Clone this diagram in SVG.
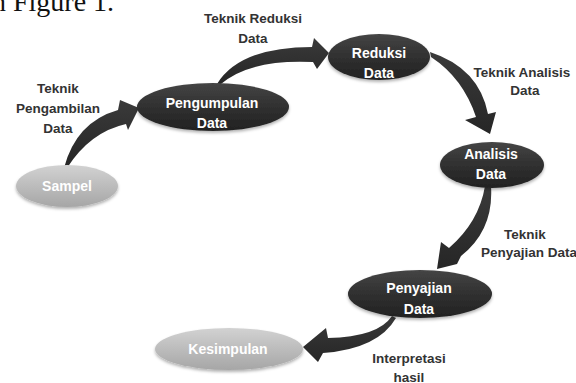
<svg xmlns="http://www.w3.org/2000/svg" width="576" height="383" viewBox="0 0 576 383">
  <defs>
    <linearGradient id="dark" x1="0" y1="0" x2="0" y2="1">
      <stop offset="0" stop-color="#454545"/>
      <stop offset="0.5" stop-color="#303030"/>
      <stop offset="1" stop-color="#222222"/>
    </linearGradient>
    <linearGradient id="light" x1="0" y1="0" x2="0" y2="1">
      <stop offset="0" stop-color="#d2d2d2"/>
      <stop offset="1" stop-color="#a6a6a6"/>
    </linearGradient>
    <linearGradient id="arrowFill" x1="0" y1="0" x2="0" y2="1">
      <stop offset="0" stop-color="#3a3a3a"/>
      <stop offset="1" stop-color="#262626"/>
    </linearGradient>
    <filter id="shadow" x="-20%" y="-20%" width="140%" height="160%">
      <feDropShadow dx="0" dy="2" stdDeviation="1.6" flood-color="#000" flood-opacity="0.3"/>
    </filter>
  </defs>
  <style>
    .node-dark { fill: url(#dark); filter: url(#shadow); }
    .node-light { fill: url(#light); filter: url(#shadow); }
    .ntext { font-family: "Liberation Sans", Arial, sans-serif; font-weight: bold; font-size: 14px; fill: #ffffff; text-anchor: middle; }
    .label { font-family: "Liberation Sans", Arial, sans-serif; font-weight: bold; font-size: 13.5px; fill: #333333; text-anchor: middle; }
    .arrow { fill: url(#arrowFill); }
    .fig { font-family: "Liberation Serif", "Times New Roman", serif; font-size: 28px; fill: #111111; }
  </style>
  <rect width="576" height="383" fill="#ffffff"/>

  <text class="fig" x="-8" y="11">n Figure 1.</text>

  <g id="connectors">
    <path class="arrow" d="M64,168 Q76,122 118,110 L120,100 L139,108 L128,130 L126,124 Q90,132 67,168 Z"/>
    <path class="arrow" d="M217,84 Q240,47 312,47 L314,38 L329,53 L317,69 L313,62 Q250,59 221,84 Z"/>
    <path class="arrow" d="M430,52 Q479,68 488,114 L496,112 L490,134 L465,120 L476,117 Q463,78 431,57 Z"/>
    <path class="arrow" d="M491,186 Q494,230 461,256 L457,264 L437,269 L441,242 L449,248 Q479,222 485,186 Z"/>
    <path class="arrow" d="M392,316 Q378,337 328,338 L326,328 L303,347 L318,362 L323,353 Q378,349 396,318 Z"/>
  </g>

  <g id="node-sampel">
    <ellipse class="node-light" cx="67" cy="186" rx="51" ry="21"/>
    <text class="ntext" x="67" y="191">Sampel</text>
  </g>

  <g id="node-pengumpulan">
    <ellipse class="node-dark" cx="213" cy="107" rx="76" ry="24"/>
    <text class="ntext" x="212" y="108">Pengumpulan</text>
    <text class="ntext" x="212" y="128">Data</text>
  </g>

  <g id="node-reduksi">
    <ellipse class="node-dark" cx="379" cy="57" rx="51" ry="23"/>
    <text class="ntext" x="379" y="58">Reduksi</text>
    <text class="ntext" x="379" y="78">Data</text>
  </g>

  <g id="node-analisis">
    <ellipse class="node-dark" cx="492" cy="165" rx="52" ry="23"/>
    <text class="ntext" x="491" y="159">Analisis</text>
    <text class="ntext" x="491" y="179">Data</text>
  </g>

  <g id="node-penyajian">
    <ellipse class="node-dark" cx="420" cy="294" rx="72" ry="24"/>
    <text class="ntext" x="419" y="293">Penyajian</text>
    <text class="ntext" x="419" y="314">Data</text>
  </g>

  <g id="node-kesimpulan">
    <ellipse class="node-light" cx="229" cy="349" rx="74" ry="21"/>
    <text class="ntext" x="228" y="354">Kesimpulan</text>
  </g>

  <g id="labels">
    <text class="label" x="58" y="93">Teknik</text>
    <text class="label" x="58" y="113">Pengambilan</text>
    <text class="label" x="58" y="133">Data</text>

    <text class="label" x="253" y="23">Teknik Reduksi</text>
    <text class="label" x="253" y="43">Data</text>

    <text class="label" x="522" y="77">Teknik Analisis</text>
    <text class="label" x="525" y="95">Data</text>

    <text class="label" x="525" y="239">Teknik</text>
    <text class="label" x="529" y="257">Penyajian Data</text>

    <text class="label" x="409" y="363">Interpretasi</text>
    <text class="label" x="409" y="382">hasil</text>
  </g>
</svg>
